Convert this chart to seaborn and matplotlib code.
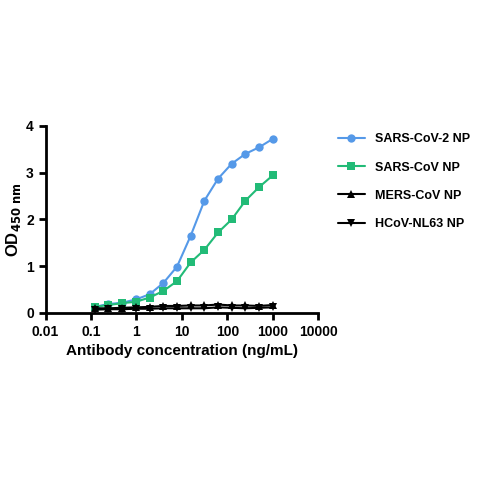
import numpy as np
import pandas as pd
import seaborn as sns
import matplotlib
matplotlib.use('Agg')
import matplotlib.pyplot as plt

conc = [0.12, 0.24, 0.49, 0.98, 1.95, 3.9, 7.8, 15.6, 31.25, 62.5, 125, 250, 500, 1000]
sars2 = [0.13, 0.19, 0.22, 0.29, 0.40, 0.64, 0.99, 1.65, 2.40, 2.87, 3.19, 3.40, 3.54, 3.72]
sars = [0.13, 0.17, 0.21, 0.24, 0.33, 0.47, 0.68, 1.08, 1.35, 1.72, 2.00, 2.40, 2.69, 2.94]
mers = [0.10, 0.10, 0.11, 0.12, 0.13, 0.15, 0.15, 0.16, 0.16, 0.18, 0.16, 0.16, 0.15, 0.17]
hcov = [0.07, 0.08, 0.08, 0.09, 0.09, 0.10, 0.10, 0.10, 0.10, 0.12, 0.11, 0.10, 0.11, 0.12]
names = ['SARS-CoV-2 NP', 'SARS-CoV NP', 'MERS-CoV NP', 'HCoV-NL63 NP']

df = pd.DataFrame({'conc': conc * 4,
                   'od': sars2 + sars + mers + hcov,
                   'sample': np.repeat(names, len(conc))})

sns.set_style('ticks')
plt.rcParams['font.family'] = ['Liberation Sans', 'DejaVu Sans']
plt.rcParams['text.color'] = 'black'
plt.rcParams['axes.labelcolor'] = 'black'
plt.rcParams['xtick.color'] = 'black'
plt.rcParams['ytick.color'] = 'black'
plt.rcParams['axes.edgecolor'] = 'black'

fig = plt.figure(figsize=(4.8, 4.8), dpi=100)
ax = fig.add_axes([0.095, 0.348, 0.568, 0.39])
sns.lineplot(data=df, x='conc', y='od', hue='sample', style='sample',
             palette=['#5599e8', '#22bb77', 'black', 'black'],
             markers=['o', 's', '^', 'v'], dashes=False, markersize=6,
             markeredgewidth=0, linewidth=1.5, ax=ax)
ax.set_xscale('log')
ax.set_xlim(0.01, 10000)
ax.set_ylim(0, 4)
ax.set_yticks([0, 1, 2, 3, 4])
ax.set_xticks([0.01, 0.1, 1, 10, 100, 1000, 10000])
ax.set_xticklabels(['0.01', '0.1', '1', '10', '100', '1000', '10000'])
ax.minorticks_off()
for s in ['left', 'bottom']:
    ax.spines[s].set_linewidth(2)
sns.despine(ax=ax)
ax.tick_params(width=2, length=5, labelsize=10)
for lab in ax.get_xticklabels() + ax.get_yticklabels():
    lab.set_fontweight('bold')
ax.set_xlabel('Antibody concentration (ng/mL)', fontsize=11, fontweight='bold')
ax.set_ylabel(r'OD$_{\mathbf{450\ nm}}$', fontsize=12, fontweight='bold', labelpad=2)
ax.legend(loc='upper left', bbox_to_anchor=(1.03, 1.02), frameon=False,
          prop={'weight': 'bold', 'size': 9}, handlelength=2.2, labelspacing=1.3)

fig.savefig('out.png', dpi=100)
